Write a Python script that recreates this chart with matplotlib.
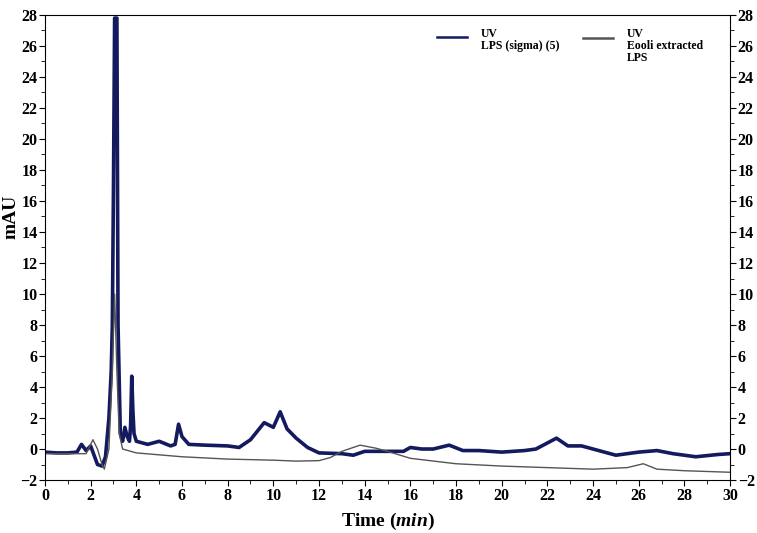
import numpy as np
import matplotlib.pyplot as plt
from matplotlib.ticker import MultipleLocator
from matplotlib.legend_handler import HandlerLine2D
from matplotlib.lines import Line2D

# LPS (sigma) (5)
t_sigma = [0.0, 0.5, 1.0, 1.4, 1.6, 1.8, 2.0, 2.1, 2.3, 2.5, 2.65, 2.8, 2.9, 2.95, 3.0,
           3.05, 3.15, 3.2, 3.3, 3.4, 3.5, 3.6, 3.7, 3.75, 3.8, 3.85, 3.9, 4.0, 4.5,
           5.0, 5.5, 5.7, 5.85, 6.0, 6.3, 7.0, 8.0, 8.5, 9.0, 9.6, 10.0, 10.3, 10.6,
           11.0, 11.5, 12.0, 13.0, 13.5, 14.0, 15.0, 15.7, 16.0, 16.5, 17.0, 17.7,
           18.3, 19.0, 20.0, 21.0, 21.5, 22.4, 22.9, 23.5, 24.0, 25.0, 26.0, 26.8,
           27.5, 28.5, 29.5, 30.0]
y_sigma = [-0.2, -0.25, -0.25, -0.2, 0.3, -0.1, 0.2, -0.2, -1.0, -1.1, -0.5, 2.0, 5.0, 8.0, 17.0,
           27.8, 27.8, 8.0, 1.0, 0.5, 1.4, 0.8, 0.5, 1.5, 4.7, 2.5, 1.0, 0.5, 0.3,
           0.5, 0.2, 0.3, 1.6, 0.8, 0.3, 0.25, 0.2, 0.1, 0.6, 1.7, 1.4, 2.4, 1.3,
           0.7, 0.1, -0.25, -0.3, -0.4, -0.15, -0.15, -0.15, 0.1, 0.0, 0.0, 0.25,
           -0.1, -0.1, -0.2, -0.1, 0.0, 0.7, 0.2, 0.2, 0.0, -0.4, -0.2, -0.1,
           -0.3, -0.5, -0.35, -0.3]

# Ecoli extracted LPS
t_ecoli = [0.0, 1.0, 1.8, 2.1, 2.3, 2.5, 2.6, 2.8, 2.95, 3.05, 3.15, 3.25, 3.4, 4.0,
           6.0, 8.0, 10.0, 11.0, 12.0, 12.5, 13.0, 13.8, 14.5, 15.0, 16.0, 18.0,
           20.0, 22.0, 24.0, 25.5, 26.2, 26.8, 28.0, 30.0]
y_ecoli = [-0.3, -0.3, -0.3, 0.6, 0.0, -1.0, -1.3, 0.0, 5.0, 10.0, 5.0, 1.0, 0.0, -0.25,
           -0.5, -0.65, -0.72, -0.78, -0.75, -0.55, -0.15, 0.25, 0.05, -0.15, -0.6, -0.95,
           -1.1, -1.2, -1.3, -1.2, -0.95, -1.3, -1.4, -1.5]

labels = ['UV\nLPS (sigma) (5)', 'UV\nEooli extracted\nLPS']
colors = ['#141a5e', '#555555']

plt.rcParams['font.family'] = ['Liberation Serif', 'DejaVu Serif']
plt.rcParams['font.weight'] = 'bold'
plt.rcParams['mathtext.fontset'] = 'custom'
plt.rcParams['mathtext.it'] = 'Liberation Serif:italic:bold'
plt.rcParams['mathtext.rm'] = 'Liberation Serif:bold'


class TopLine(HandlerLine2D):
    # put the legend line next to the first text line
    def __init__(self, shift, **kw):
        super().__init__(**kw)
        self.shift = shift

    def create_artists(self, legend, orig_handle, xdescent, ydescent, width, height, fontsize, trans):
        return super().create_artists(legend, orig_handle, xdescent, ydescent - 2 * self.shift,
                                      width, height, fontsize, trans)


fig = plt.figure(figsize=(7.57, 5.33), dpi=100)
ax = fig.add_axes([0.0594, 0.0994, 0.905, 0.8725])

ax.plot(t_sigma, y_sigma, color=colors[0], lw=2.6)
ax.plot(t_ecoli, y_ecoli, color=colors[1], lw=1.0)

ax.set_xlim(0, 30)
ax.set_ylim(-2, 28)
ax.xaxis.set_major_locator(MultipleLocator(2))
ax.xaxis.set_minor_locator(MultipleLocator(1))
ax.yaxis.set_major_locator(MultipleLocator(2))
ax.yaxis.set_minor_locator(MultipleLocator(1))
ax.tick_params(which='both', labelsize=11.5, right=True, labelright=True, direction='out', pad=1.5)
ax.tick_params(which='major', length=4)
ax.tick_params(which='minor', length=3)
for lab in ax.get_xticklabels() + ax.get_yticklabels():
    lab.set_fontweight('bold')

ax.set_xlabel('Time ($\\mathit{min}$)', fontsize=14, fontweight='bold', labelpad=5)
ax.set_ylabel('mAU', fontsize=14, fontweight='bold')
ax.yaxis.set_label_coords(-0.037, 0.565)

anchors = [(0.5773, 0.947), (0.7702, 0.947)]
shifts = [2.5, 6.5]
for i in range(2):
    h = Line2D([], [], color=colors[i], lw=1.8)
    leg = fig.legend([h], [labels[i]], loc='upper left', bbox_to_anchor=anchors[i],
                     frameon=False, fontsize=8.5, borderpad=0, borderaxespad=0,
                     handlelength=2.5, handletextpad=1.2,
                     handler_map={h: TopLine(shifts[i])})
    for txt in leg.get_texts():
        txt.set_linespacing(1.0)

fig.savefig('out.png', dpi=100)
